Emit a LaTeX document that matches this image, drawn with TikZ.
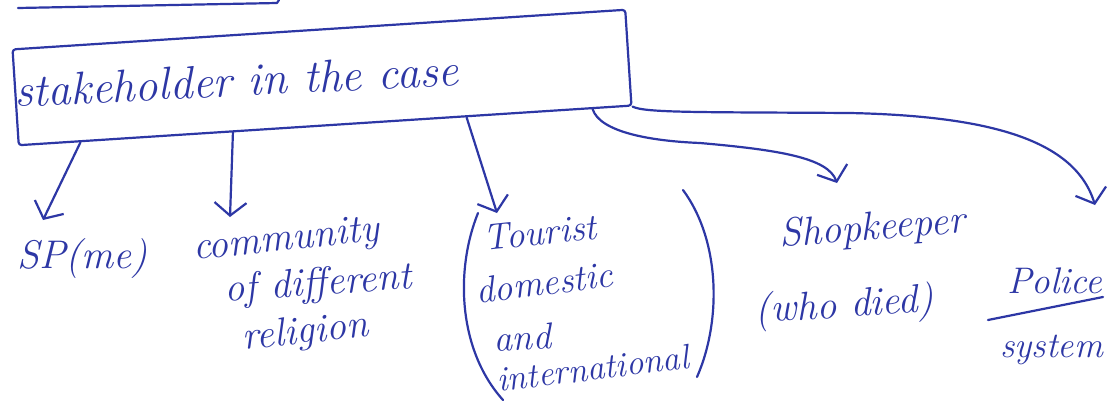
\documentclass[tikz,border=0pt]{standalone}
\usetikzlibrary{arrows.meta,calc}
\definecolor{inkc}{RGB}{45,55,165}
\begin{document}
\begin{tikzpicture}[x=1pt,y=-1pt,
  ink/.style={draw=inkc,line width=2.2pt,line cap=round,line join=round},
  arr/.style={ink,-{Straight Barb[length=13pt,width=32pt]}},
  hand/.style={text=inkc,inner sep=0pt,font=\fontsize{40}{48}\selectfont\itshape},
  mid/.style={hand,font=\fontsize{37}{44}\selectfont\itshape},
  big/.style={hand,font=\fontsize{46}{54}\selectfont\itshape}]
\useasboundingbox (0,0) rectangle (1112,413);
\fill[white] (0,0) rectangle (1112,413);

% partial heading underline at the top
\draw[ink] (18,8) -- (277,3) -- (279,0);

% main box and its title
\node[ink,rotate=3.7,minimum width=614pt,minimum height=96pt,rounded corners=3pt,inner sep=0pt] (box) at (322,77.5) {};
\node[big,anchor=base west,rotate=2.8] (title) at (15,107) {stakeholder in the case};

% texts
\node[hand,anchor=base west] (sp) at (17,268) {SP(me)};
\node[hand,anchor=base,rotate=6] (c1) at (287,250) {community};
\node[hand,anchor=base,rotate=4] (c2) at (319,295) {of different};
\node[hand,anchor=base,rotate=6] (c3) at (306,343) {religion};

\node[mid,anchor=base,rotate=6] (tour) at (541,245) {Tourist};
\node[mid,anchor=base,rotate=7] (dom) at (546,295) {domestic};
\node[mid,anchor=base,rotate=3] (and) at (523,350) {and};
\node[mid,anchor=base,rotate=7,font=\fontsize{35}{42}\selectfont\itshape] (intl) at (594,380) {international};

\node[hand,anchor=base west,rotate=4.5] (shop) at (780,247) {Shopkeeper};
\node[hand,anchor=base west,rotate=3.6] (died) at (755,323) {(who died)};

\node[mid,anchor=base west] (pol) at (1007,293) {Police};
\node[hand,anchor=base west,font=\fontsize{36}{43}\selectfont\itshape] (sys) at (1000,357) {system};
\draw[ink] (988,320) -- (1103,297);

% brackets round the tourist group
\draw[ink] (478,213) .. controls (455,270) and (458,350) .. (503,400);
\draw[ink] (683,190) .. controls (720,240) and (722,320) .. (697,377);

% arrow tips
\coordinate (t1) at (43,220);
\coordinate (t2) at (230,217);
\coordinate (t3) at (497,213);
\coordinate (t4) at (837,183);
\coordinate (t5) at (1095,205);

% connectors
\draw[arr] ($(box.south west)!0.102!(box.south east)$) -- (t1);
\draw[arr] ($(box.south west)!0.35!(box.south east)$) -- (t2);
\draw[arr] ($(box.south west)!0.73!(box.south east)$) -- (t3);
\draw[arr] ($(box.south west)!0.935!(box.south east)$) .. controls (600,132) and (650,141) .. (700,143)
   .. controls (780,150) and (828,158) .. (t4);
\draw[arr] (box.south east) .. controls (645,113) and (700,112) .. (850,113)
   .. controls (990,116) and (1075,140) .. (t5);
\end{tikzpicture}
\end{document}
